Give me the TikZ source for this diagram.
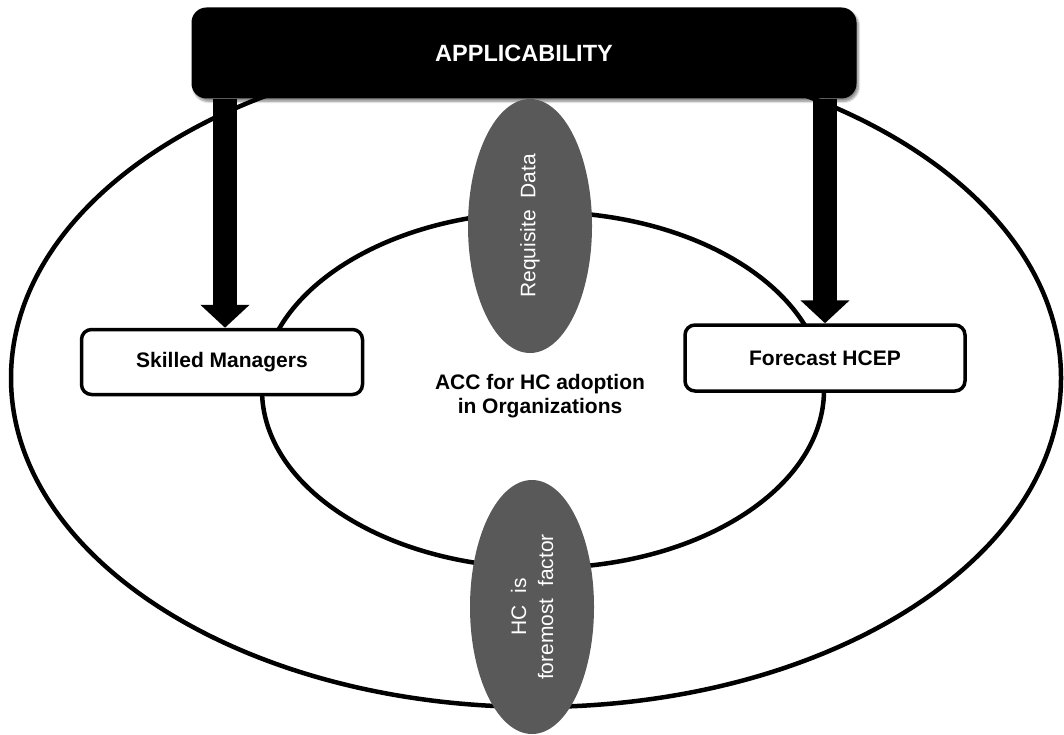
\documentclass[tikz,border=0pt]{standalone}
\usepackage{fontspec}
\setmainfont{Liberation Sans}
\usetikzlibrary{arrows.meta,shapes.geometric,shadows.blur}
\definecolor{pillgray}{RGB}{89,89,89}

\begin{document}
\begin{tikzpicture}[x=1pt,y=-1pt,
  ring/.style={draw=black,line width=4.5pt},
  labelbox/.style={draw=black,line width=3.5pt,fill=white,rounded corners=10pt,
    font=\fontsize{21}{24}\selectfont\bfseries,inner sep=0pt},
  topbox/.style={fill=black,rounded corners=15pt,text=white,inner sep=0pt,
    minimum width=665pt,minimum height=91pt,
    font=\fontsize{23.5}{27}\selectfont\bfseries,
    blur shadow={shadow xshift=2pt,shadow yshift=-3pt,shadow blur steps=6,shadow opacity=45}},
  pill/.style={ellipse,fill=pillgray,text=white,rotate=90,inner sep=0pt,
    minimum width=254pt,minimum height=124pt,align=center,
    font=\fontsize{21}{27}\selectfont},
  bigarrow/.style={line width=24pt,-{Triangle[width=48pt,length=23pt]}},
  centre/.style={align=center,font=\fontsize{21}{24}\selectfont\bfseries}]

\useasboundingbox (0,0) rectangle (1064,735);

% outer and inner rings
\draw[ring] (536,378) ellipse [x radius=525pt, y radius=329pt];
\draw[ring] (543,390) ellipse [x radius=281pt, y radius=178pt];

% side boxes
\node[labelbox,minimum width=281pt,minimum height=65pt] (skilled) at (222,362) {Skilled Managers};
\node[labelbox,minimum width=280pt,minimum height=66pt] (forecast) at (825,358) {Forecast HCEP};

% centre label
\node[centre] (acc) at (540,396) {ACC for HC adoption\\in Organizations};

% header
\node[topbox] (app) at (524,53) {APPLICABILITY};

% arrows from the header
\draw[bigarrow] (app.south -| 225,0) -- (skilled.north -| 225,0);
\draw[bigarrow] (app.south -| 825,0) -- (forecast.north -| 825,0);

% grey ovals
\node[pill] (req) at (530,226) {Requisite\ \ Data};
\node[pill] (hc) at (532,607) {HC\ \ is\\foremost\ \ factor};

\end{tikzpicture}
\end{document}
